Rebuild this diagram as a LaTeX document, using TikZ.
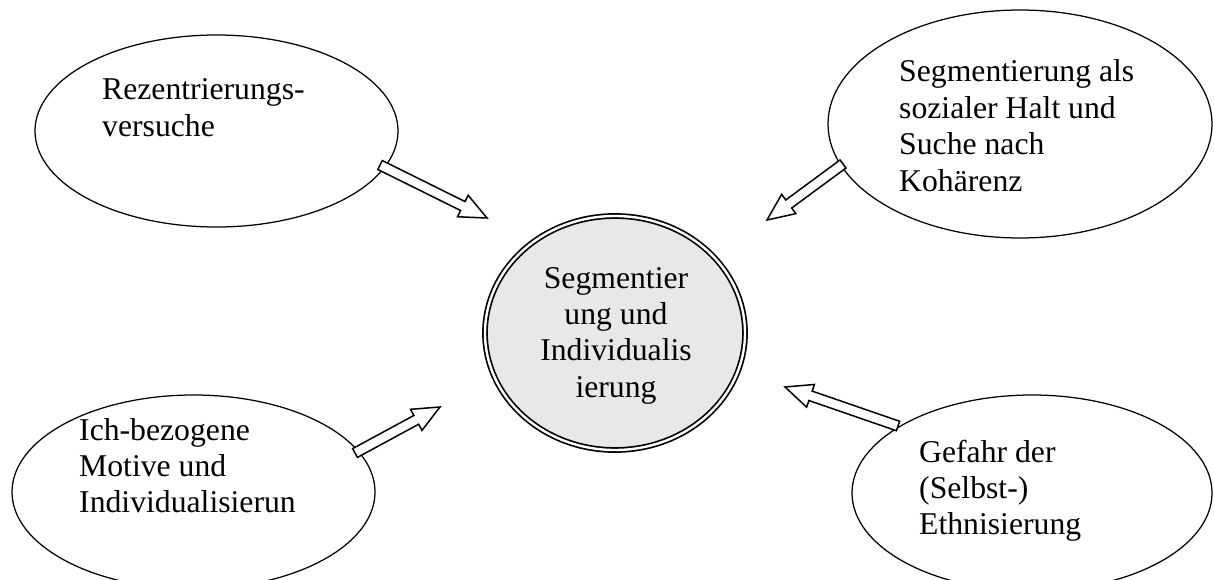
\documentclass[tikz,border=0pt]{standalone}
\usepackage{fontspec}
\setmainfont{Liberation Serif}
\usetikzlibrary{shapes.geometric,calc}
\definecolor{ringfill}{RGB}{232,232,232}
\tikzset{
  bubble/.style={ellipse, draw=black, line width=1.25pt, inner sep=0pt},
  ring/.style={ellipse, draw=black, line width=1.7pt, double=white, double distance=2.4pt, fill=ringfill, inner sep=0pt},
  txt/.style={inner sep=0pt, font=\fontsize{31.7}{36.4}\selectfont},
  blk/.style={draw=black, fill=white, line width=1.5pt, line join=miter}
}
\newcommand\blkarrow[2]{%
  \coordinate (bb) at ($(#2)!27pt!(#1)$);
  \draw[blk] ($(#1)!5pt!90:(#2)$) -- ($(bb)!5pt!-90:(#1)$) -- ($(bb)!12pt!-90:(#1)$) -- (#2)
    -- ($(bb)!12pt!90:(#1)$) -- ($(bb)!5pt!90:(#1)$) -- ($(#1)!5pt!-90:(#2)$) -- cycle;}
\begin{document}
\begin{tikzpicture}[x=1pt,y=-1pt]
  \clip (0,0) rectangle (1214,580);
  \fill[white] (0,0) rectangle (1214,580);
  % bubbles
  \node[bubble, minimum width=363pt, minimum height=192pt] (tl) at (216.5,131) {};
  \node[bubble, minimum width=384pt, minimum height=228pt] (tr) at (1020,124) {};
  \node[bubble, minimum width=363pt, minimum height=194pt] (bl) at (193.5,492) {};
  \node[bubble, minimum width=360pt, minimum height=196pt] (br) at (1032,493) {};
  \node[ring, minimum width=260pt, minimum height=234pt] (c) at (615,333) {};
  % texts
  \node[txt, anchor=base west] (ttl) at (102,100) {\parbox[t]{300pt}{\raggedright Rezentrierungs-\\versuche}};
  \node[txt, anchor=base west] (ttr) at (899,82) {\parbox[t]{300pt}{\raggedright Segmentierung als\\sozialer Halt und\\Suche nach\\Kohärenz}};
  \node[txt, anchor=base west] (tbl) at (79,440) {\parbox[t]{300pt}{\raggedright Ich-bezogene\\Motive und\\Individualisierun}};
  \node[txt, anchor=base west] (tbr) at (919,462) {\parbox[t]{300pt}{\raggedright Gefahr der\\(Selbst-)\\Ethnisierung}};
  \node[txt, anchor=base] (tc) at (616,288) {\parbox[t]{300pt}{\centering Segmentier\\ung und\\Individualis\\ierung}};
  % arrow ends
  \coordinate (a1s) at (380,165); \coordinate (a1e) at (487,218);
  \coordinate (a2s) at (843,164); \coordinate (a2e) at (767,220);
  \coordinate (a3s) at (355,453); \coordinate (a3e) at (440,407);
  \coordinate (a4s) at (898,426); \coordinate (a4e) at (785,387);
  \blkarrow{a1s}{a1e}
  \blkarrow{a2s}{a2e}
  \blkarrow{a3s}{a3e}
  \blkarrow{a4s}{a4e}
\end{tikzpicture}
\end{document}
